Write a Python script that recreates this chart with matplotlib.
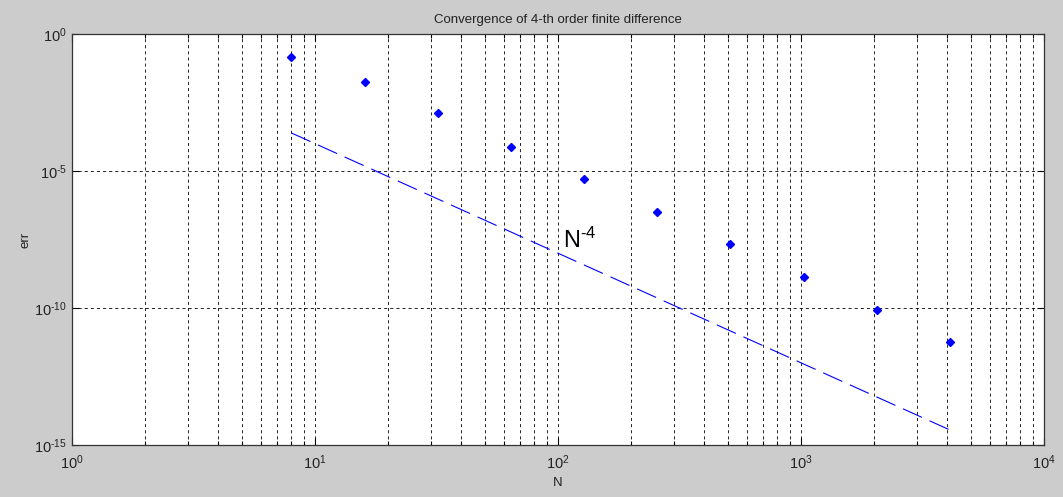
import matplotlib

matplotlib.use("Agg")

import matplotlib.pyplot as plt
from matplotlib.ticker import FixedLocator, LogLocator, NullFormatter, NullLocator


N = [8, 16, 32, 64, 128, 256, 512, 1024, 2048, 4096]
err = [1.5e-1, 1.7e-2, 1.3e-3, 7.8e-5, 5.2e-6, 3.3e-7, 2.1e-8, 1.3e-9, 8.3e-11, 5.6e-12]

ref_N = [8, 4096]
ref_err = [2.44e-4, 3.55e-15]

x_ticks = [1, 10, 100, 1000, 10000]
x_labels = ["0", "1", "2", "3", "4"]
y_ticks = [1e-15, 1e-10, 1e-5, 1e0]
y_labels = ["-15", "-10", "-5", "0"]

TEXT_COLOR = "#222222"


def sup_label(exp):
    # keep the plain hyphen, mathtext would turn "-" into a wide minus
    exp = exp.replace("-", r"\text{-}")
    return r"$\mathregular{10^{%s}}$" % exp


def main():
    plt.rcParams["font.family"] = ["Liberation Sans", "DejaVu Sans"]
    plt.rcParams["mathtext.fontset"] = "custom"
    plt.rcParams["mathtext.rm"] = "Liberation Sans"
    plt.rcParams["lines.scale_dashes"] = False

    fig = plt.figure(figsize=(10.63, 4.97), dpi=100)
    fig.patch.set_facecolor("#cccccc")
    ax = fig.add_axes([72 / 1063, 1 - 445 / 497, (1044 - 72) / 1063, (445 - 34) / 497])
    ax.set_facecolor("white")

    ax.set_xscale("log")
    ax.set_yscale("log")
    ax.set_xlim(1, 1e4)
    ax.set_ylim(1e-15, 1)

    ax.plot(ref_N, ref_err, color="blue", linewidth=0.8, dashes=(15, 6), zorder=3)
    ax.plot(N, err, linestyle="none", marker="D", markersize=4,
            color="blue", markeredgecolor="blue", zorder=4)

    ax.text(105, 10 ** -7.79, sup_label("-4").replace("10", "N"), fontsize=17,
            va="baseline", ha="left", color="black")

    ax.xaxis.set_major_locator(FixedLocator(x_ticks))
    ax.set_xticklabels([sup_label(s) for s in x_labels])
    ax.xaxis.set_minor_locator(LogLocator(base=10, subs=range(2, 10), numticks=20))
    ax.xaxis.set_minor_formatter(NullFormatter())
    ax.yaxis.set_major_locator(FixedLocator(y_ticks))
    ax.set_yticklabels([sup_label(s) for s in y_labels])
    ax.yaxis.set_minor_locator(NullLocator())

    ax.tick_params(which="both", direction="in", top=True, right=True,
                   labelsize=10.5, colors="black", labelcolor=TEXT_COLOR)
    ax.tick_params(which="major", length=5, width=0.8)
    ax.tick_params(which="minor", length=3, width=0.8)
    ax.tick_params(axis="x", pad=6)

    ax.grid(True, which="major", color="black", linestyle=(0, (2.2, 2.2)), linewidth=0.6)
    ax.grid(True, which="minor", axis="x", color="black", linestyle=(0, (2.2, 2.2)),
            linewidth=0.6)
    ax.set_axisbelow(True)

    for spine in ax.spines.values():
        spine.set_linewidth(0.9)
        spine.set_color("#333333")

    ax.set_title("Convergence of 4-th order finite difference", fontsize=9.5,
                 color=TEXT_COLOR, pad=8)
    ax.set_xlabel("N", fontsize=9.5, color=TEXT_COLOR, labelpad=4)
    ax.set_ylabel("err", fontsize=9.5, color=TEXT_COLOR, labelpad=2)

    fig.savefig("out.png", dpi=100, facecolor=fig.get_facecolor())
    plt.close(fig)


if __name__ == "__main__":
    main()
